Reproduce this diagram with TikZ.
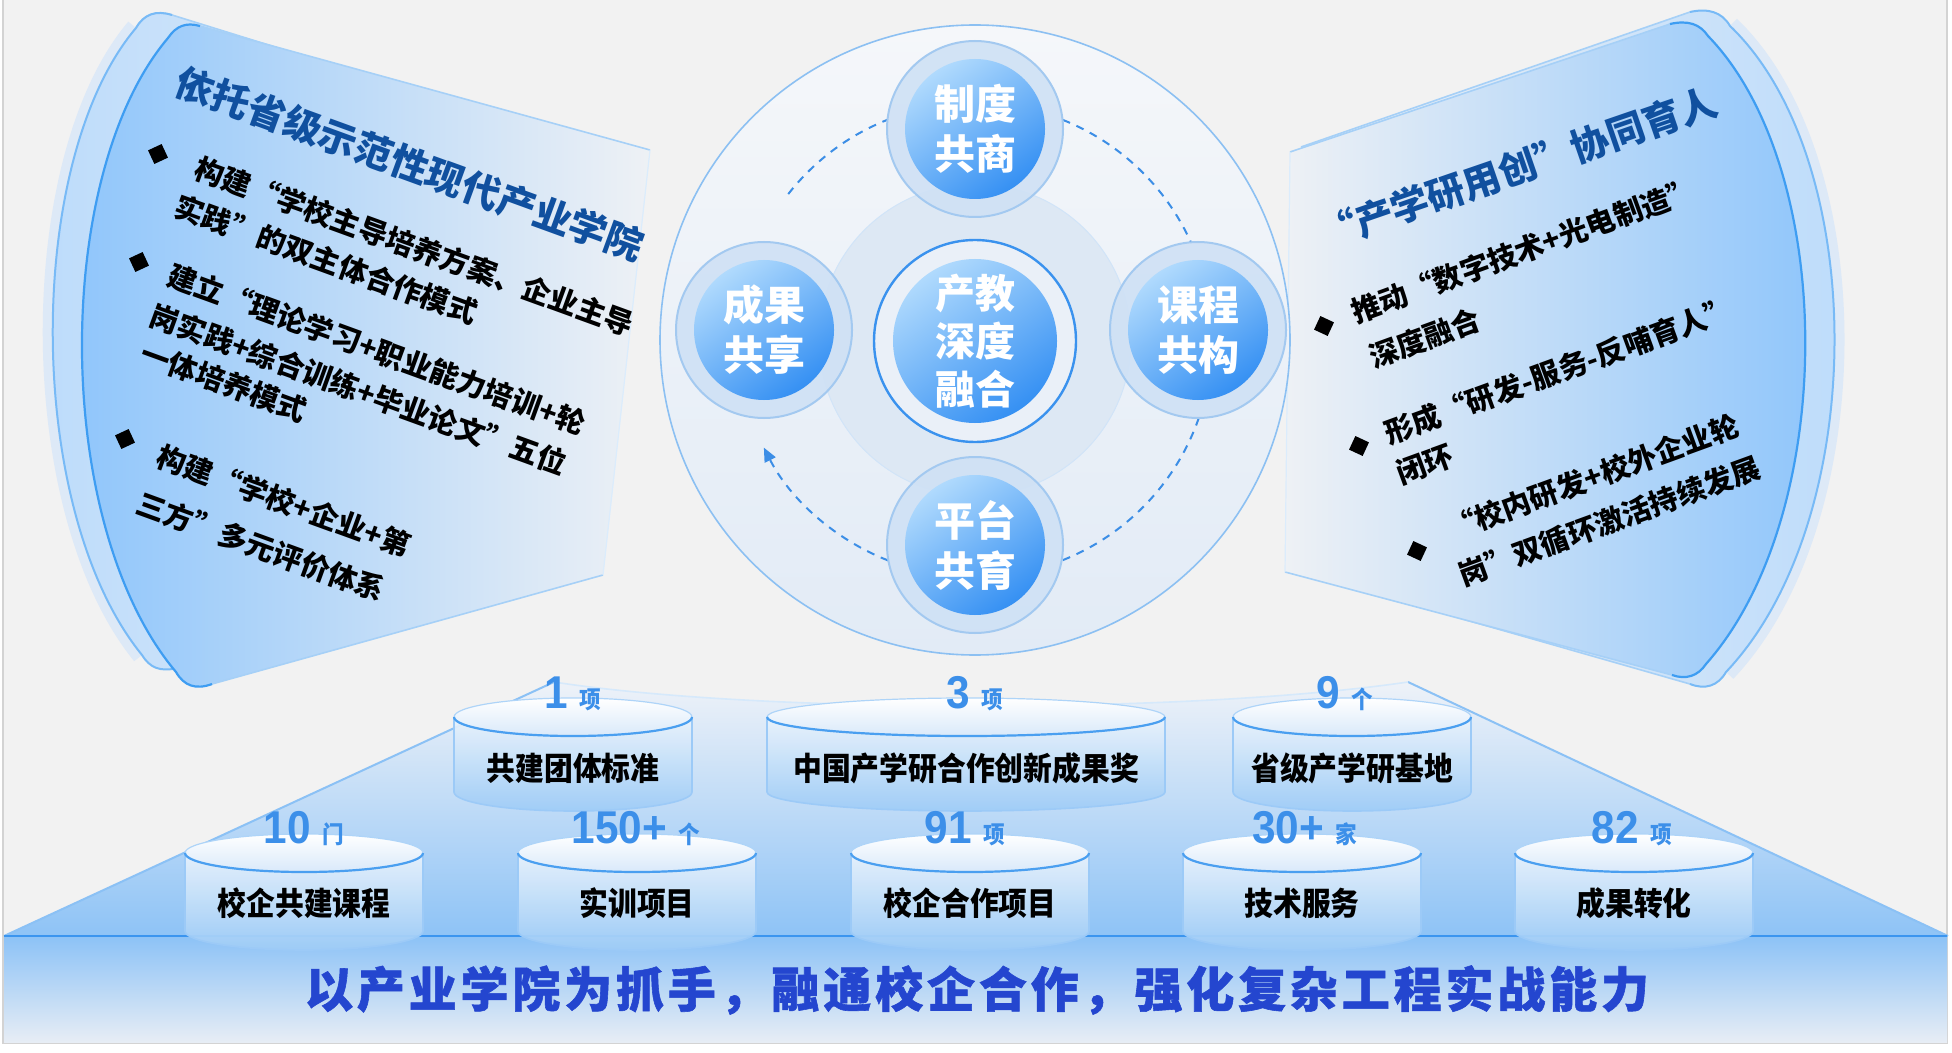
\documentclass[tikz,border=0pt]{standalone}
\usepackage{fontspec}
\usetikzlibrary{arrows.meta,calc}
\newfontfamily\cjk{Noto Sans CJK SC}
\newfontfamily\cjkn{Noto Sans CJK SC}[FakeStretch=0.9]
\newfontfamily\cjkw{Noto Sans CJK SC}[LetterSpace=8,FakeBold=1.2]
\newfontfamily\numf{Liberation Sans}[FakeStretch=0.92]
\definecolor{bg}{HTML}{F2F2F2}
\definecolor{frameC}{HTML}{D3D3D3}
\definecolor{panelDeep}{HTML}{8CC4FB}
\definecolor{panelLight}{HTML}{EEF1F5}
\definecolor{backDeep}{HTML}{BBDBFB}
\definecolor{backLight}{HTML}{F0F2F5}
\definecolor{panelEdge}{HTML}{3E9DF2}
\definecolor{panelEdgeL}{HTML}{A6D0F7}
\definecolor{glowC}{HTML}{DDE9F7}
\definecolor{titleBlue}{HTML}{10509F}
\definecolor{bigTop}{HTML}{F5F7FA}
\definecolor{bigBot}{HTML}{E2EBF6}
\definecolor{bigEdge}{HTML}{8CC0F2}
\definecolor{midDisk}{HTML}{DDE8F4}
\definecolor{ringFill}{HTML}{CFE1F5}
\definecolor{ringEdge}{HTML}{A3C9F0}
\definecolor{diskL}{HTML}{B0DAFD}
\definecolor{diskD}{HTML}{3590F3}
\definecolor{flowC}{HTML}{3C8EE6}
\definecolor{coreRing}{HTML}{3A92EE}
\definecolor{coreFill}{HTML}{EAF0F8}
\definecolor{trapTop}{HTML}{EEF2F8}
\definecolor{trapBot}{HTML}{8EC3F6}
\definecolor{trapEdge}{HTML}{5AA7F1}
\definecolor{baseTop}{HTML}{8CC2F6}
\definecolor{baseBot}{HTML}{E7EDF5}
\definecolor{baseLine}{HTML}{3B95EF}
\definecolor{bandText}{HTML}{2446CF}
\definecolor{cylTop}{HTML}{EAF3FC}
\definecolor{cylBot}{HTML}{9ECCF7}
\definecolor{cylEdge}{HTML}{4A9FF0}
\definecolor{ellBot}{HTML}{D9E9FA}
\definecolor{numBlue}{HTML}{3C8FE9}
\newcommand\numtxt[2]{{\numf\bfseries\fontsize{23pt}{23pt}\selectfont #1\ }{\cjkn\bfseries\fontsize{12pt}{12pt}\selectfont #2}}
% cx, ty, rx, h
\newcommand\cylshape[4]{%
  \path[top color=cylTop, bottom color=cylBot, fill opacity=0.92] (#1-#3,#2) -- (#1-#3,#2+#4) arc[start angle=180,end angle=0,x radius=#3,y radius=19] -- (#1+#3,#2) -- cycle;
  \draw[cylEdge!55, line width=0.8pt] (#1-#3,#2) -- (#1-#3,#2+#4) arc[start angle=180,end angle=0,x radius=#3,y radius=19] -- (#1+#3,#2);
  \path[top color=white, bottom color=ellBot, draw=cylEdge!45, line width=0.6pt] (#1,#2) ellipse[x radius=#3,y radius=19];
  \draw[cylEdge, line width=1.1pt] (#1+#3,#2) arc[start angle=0,end angle=180,x radius=#3,y radius=19];
}
\tikzset{
  itemL/.style={anchor=west, inner sep=0pt, rotate=-20, font=\cjk\bfseries\fontsize{14.5pt}{17pt}\selectfont},
  itemR/.style={anchor=west, inner sep=0pt, rotate=20, font=\cjk\bfseries\fontsize{14.5pt}{17pt}\selectfont},
  bulletL/.style={fill=black, minimum size=7.5pt, inner sep=0pt, rotate=25},
  bulletR/.style={fill=black, minimum size=7.5pt, inner sep=0pt, rotate=-25},
  ttl/.style={inner sep=0pt, text=titleBlue, font=\cjk\bfseries\fontsize{19pt}{22pt}\selectfont},
  satring/.style={circle, minimum size=88pt, inner sep=0pt, fill=ringFill, fill opacity=0.9, draw=ringEdge, line width=1pt},
  satdisk/.style={circle, minimum size=70pt, inner sep=0pt, top color=diskL, bottom color=diskD, shading angle=35, text=white, align=center, font=\cjk\bfseries\fontsize{20.5pt}{25pt}\selectfont},
  flow/.style={flowC, line width=1pt, dash pattern=on 4pt off 3.5pt},
  cyllbl/.style={inner sep=0pt, font=\cjkn\bfseries\fontsize{16pt}{18pt}\selectfont},
  numlbl/.style={inner sep=0pt, anchor=base, text=numBlue},
}
\begin{document}
\begin{tikzpicture}[x=0.5pt,y=-0.5pt]
\useasboundingbox (0,0) rectangle (1952,1053);
\fill[white] (0,0) rectangle (1952,1053);
\draw[frameC, fill=bg, line width=1pt] (3,-4) rectangle (1947,1043);

% pyramid and base
\path[top color=trapTop, bottom color=trapBot] (4,936) -- (554,682) .. controls (760,714) and (1190,714) .. (1408,682) -- (1948,936) -- cycle;
\draw[trapEdge!70, line width=1pt] (4,936) -- (554,682);
\draw[trapEdge!70, line width=1pt] (1948,936) -- (1408,682);
\draw[trapEdge!25, line width=0.8pt] (554,682) .. controls (760,714) and (1190,714) .. (1408,682);
\path[top color=baseTop, bottom color=baseBot] (4,936) rectangle (1947,1042);
\draw[baseLine, line width=1.3pt] (4,936) -- (1947,936);

% left panel
\draw[glowC, line width=10pt] (142,655) .. controls (24,510) and (24,160) .. (136,28);
\path[left color=backDeep, right color=backLight] (172,15) -- (600,148) -- (600,566) -- (178,668) .. controls (160,672) and (150,668) .. (142,655) .. controls (24,510) and (24,160) .. (136,28) .. controls (144,14) and (156,10) .. (172,15) -- cycle;
\draw[panelEdgeL, line width=0.8pt] (600,148) -- (172,15) .. controls (156,10) and (144,14) .. (136,28);
\draw[panelEdgeL, line width=0.8pt] (600,566) -- (178,668);
\draw[panelEdge!70, line width=1pt] (178,668) .. controls (160,672) and (150,668) .. (142,655) .. controls (24,510) and (24,160) .. (136,28) .. controls (144,14) and (156,10) .. (172,15);
\path[left color=panelDeep, right color=panelLight] (200,26) -- (650,150) -- (603,575) -- (212,684) .. controls (196,690) and (184,686) .. (176,672) .. controls (52,525) and (52,175) .. (168,38) .. controls (176,26) and (186,22) .. (200,26) -- cycle;
\draw[panelEdgeL, line width=0.8pt] (650,150) -- (200,26);
\draw[panelEdgeL, line width=0.8pt] (603,575) -- (212,684);
\draw[panelEdgeL!40, line width=0.6pt] (650,150) -- (603,575);
\draw[panelEdge, line width=1.1pt] (212,684) .. controls (196,690) and (184,686) .. (176,672) .. controls (52,525) and (52,175) .. (168,38) .. controls (176,26) and (186,22) .. (200,26);

% right panel
\draw[glowC, line width=10pt] (1726,672) .. controls (1870,520) and (1870,160) .. (1730,26);
\path[left color=backLight, right color=backDeep] (1690,12) -- (1301,147) -- (1288,569) -- (1690,684) .. controls (1705,690) and (1718,686) .. (1726,672) .. controls (1870,520) and (1870,160) .. (1730,26) .. controls (1722,12) and (1708,8) .. (1690,12) -- cycle;
\draw[panelEdgeL, line width=0.8pt] (1301,147) -- (1690,12);
\draw[panelEdgeL, line width=0.8pt] (1288,569) -- (1690,684);
\draw[panelEdge!70, line width=1pt] (1690,684) .. controls (1705,690) and (1718,686) .. (1726,672) .. controls (1870,520) and (1870,160) .. (1730,26) .. controls (1722,12) and (1708,8) .. (1690,12);
\path[left color=panelLight, right color=panelDeep] (1670,24) -- (1290,152) -- (1285,572) -- (1672,675) .. controls (1686,680) and (1698,676) .. (1706,664) .. controls (1838,515) and (1838,170) .. (1708,36) .. controls (1700,24) and (1688,20) .. (1670,24) -- cycle;
\draw[panelEdgeL, line width=0.8pt] (1290,152) -- (1670,24);
\draw[panelEdgeL, line width=0.8pt] (1285,572) -- (1672,675);
\draw[panelEdgeL!40, line width=0.6pt] (1290,152) -- (1285,572);
\draw[panelEdge, line width=1.1pt] (1672,675) .. controls (1686,680) and (1698,676) .. (1706,664) .. controls (1838,515) and (1838,170) .. (1708,36) .. controls (1700,24) and (1688,20) .. (1670,24);

% central circles
\node[circle, minimum size=315pt, inner sep=0pt, top color=bigTop, bottom color=bigBot, draw=bigEdge, line width=0.8pt] (big) at (975,340) {};
\node[circle, minimum size=156pt, inner sep=0pt, fill=midDisk, draw=ringEdge!50, line width=0.5pt] (mid) at (975,340) {};
\coordinate (c0) at (975,340);
\coordinate (f1) at ($(c0)+(-142:237)$);
\coordinate (f2) at ($(c0)+(-68.3:237)$);
\coordinate (f3) at ($(c0)+(19.2:237)$);
\coordinate (f4) at ($(c0)+(111.5:237)$);
\draw[flow] (f1) arc[start angle=-142, end angle=-111.7, radius=237];
\draw[flow] (f2) arc[start angle=-68.3, end angle=-24.4, radius=237];
\draw[flow] (f3) arc[start angle=19.2, end angle=68.5, radius=237];
\draw[flow, -{Triangle[length=7pt,width=6pt]}] (f4) arc[start angle=111.5, end angle=153, radius=237];
\node[circle, minimum size=101pt, inner sep=0pt, fill=coreFill, draw=coreRing, line width=1.2pt] (cring) at (975,341) {};
\node[satdisk, minimum size=82pt, font=\cjk\bfseries\fontsize{20pt}{24pt}\selectfont] (core) at (975,341) {产教\\深度\\融合};
\node[satring] (ringT) at (975,129) {};
\node[satdisk] (zhidu) at (975,129) {制度\\共商};
\node[satring] (ringR) at (1198,330) {};
\node[satdisk] (kecheng) at (1198,330) {课程\\共构};
\node[satring] (ringB) at (975,545) {};
\node[satdisk] (pingtai) at (975,545) {平台\\共育};
\node[satring] (ringL) at (764,330) {};
\node[satdisk] (chengguo) at (764,330) {成果\\共享};

% panel texts
\node[ttl, rotate=-20] (lt) at (410,164) {依托省级示范性现代产业学院};
\node[bulletL] (lb1) at (158,154) {};
\node[itemL] (l1a) at (196,167) {构建“学校主导培养方案、企业主导};
\node[itemL] (l1b) at (176,205) {实践”的双主体合作模式};
\node[bulletL] (lb2) at (139,262) {};
\node[itemL] (l2a) at (169,274) {建立“理论学习+职业能力培训+轮};
\node[itemL] (l2b) at (151,314) {岗实践+综合训练+毕业论文”五位};
\node[itemL] (l2c) at (142,352) {一体培养模式};
\node[bulletL] (lb3) at (125,439) {};
\node[itemL] (l3a) at (158,455) {构建“学校+企业+第};
\node[itemL] (l3b) at (138,502) {三方”多元评价体系};

\node[ttl, rotate=19] (rt) at (1518,168) {“产学研用创”协同育人};
\node[bulletR] (rb1) at (1324,326) {};
\node[itemR] (r1a) at (1352,313) {推动“数字技术+光电制造”};
\node[itemR] (r1b) at (1370,358) {深度融合};
\node[bulletR] (rb2) at (1359,446) {};
\node[itemR] (r2a) at (1385,434) {形成“研发-服务-反哺育人”};
\node[itemR] (r2b) at (1397,474) {闭环};
\node[bulletR] (rb3) at (1417,551) {};
\node[itemR] (r3a) at (1448,530) {“校内研发+校外企业轮};
\node[itemR] (r3b) at (1459,576) {岗”双循环激活持续发展};

% cylinders top row
\cylshape{573}{717}{119}{75}
\cylshape{966}{717}{199}{75}
\cylshape{1352}{717}{119}{75}
\node[cyllbl] (cA) at (573,768) {共建团体标准};
\node[cyllbl] (cB) at (966,768) {中国产学研合作创新成果奖};
\node[cyllbl] (cC) at (1352,768) {省级产学研基地};
\node[numlbl] (nA) at (573,708) {\numtxt{1}{项}};
\node[numlbl] (nB) at (975,708) {\numtxt{3}{项}};
\node[numlbl] (nC) at (1345,708) {\numtxt{9}{个}};

% cylinders bottom row
\cylshape{304}{853}{119}{78}
\cylshape{637}{853}{119}{78}
\cylshape{970}{853}{119}{78}
\cylshape{1302}{853}{119}{78}
\cylshape{1634}{853}{119}{78}
\node[cyllbl] (cD) at (304,903) {校企共建课程};
\node[cyllbl] (cE) at (637,903) {实训项目};
\node[cyllbl] (cF) at (970,903) {校企合作项目};
\node[cyllbl] (cG) at (1302,903) {技术服务};
\node[cyllbl] (cH) at (1634,903) {成果转化};
\node[numlbl] (nD) at (304,843) {\numtxt{10}{门}};
\node[numlbl] (nE) at (636,843) {\numtxt{150+}{个}};
\node[numlbl] (nF) at (965,843) {\numtxt{91}{项}};
\node[numlbl] (nG) at (1305,843) {\numtxt{30+}{家}};
\node[numlbl] (nH) at (1632,843) {\numtxt{82}{项}};

% band text
\node[inner sep=0pt, text=bandText, font=\cjkw\bfseries\fontsize{24pt}{26pt}\selectfont] (band) at (977,990) {以产业学院为抓手，融通校企合作，强化复杂工程实战能力};
\end{tikzpicture}
\end{document}
